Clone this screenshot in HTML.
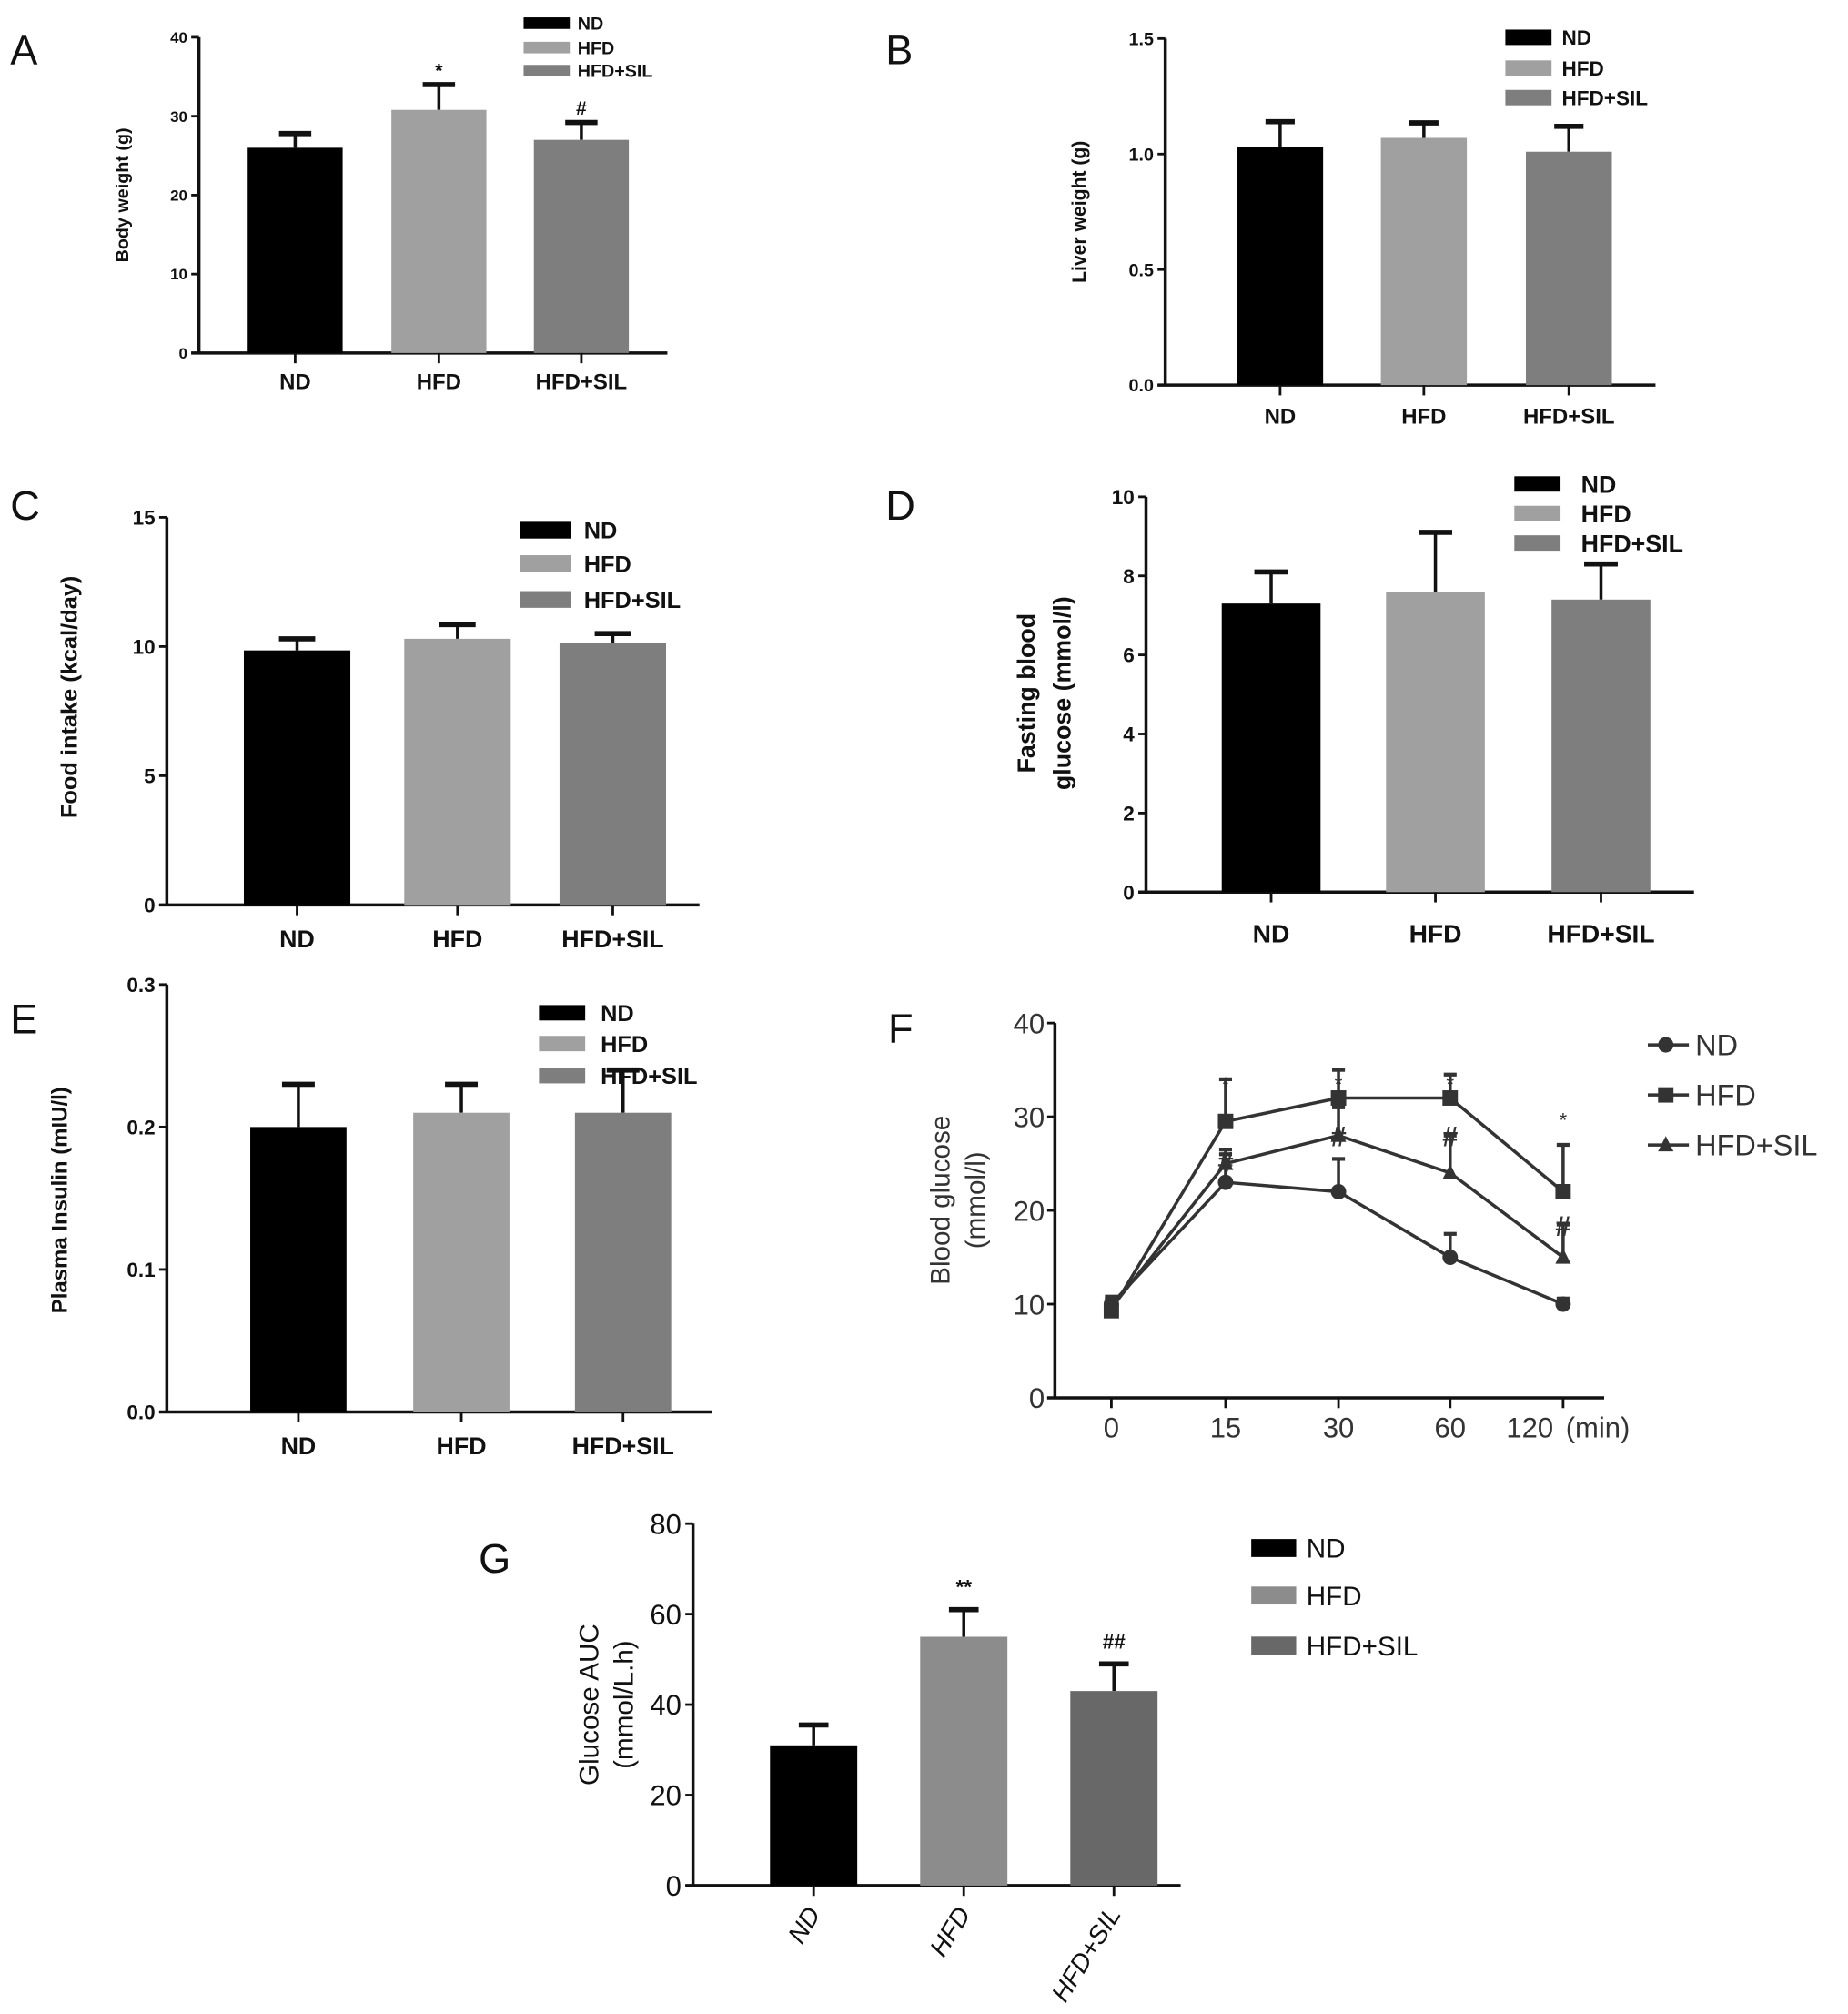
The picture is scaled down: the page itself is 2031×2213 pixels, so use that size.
<!DOCTYPE html>
<html><head><meta charset="utf-8"><style>
html,body{margin:0;padding:0;background:#fff}
svg{display:block}
text{font-family:"Liberation Sans",sans-serif}
</style></head><body>
<svg id="fig" width="2031" height="2213" viewBox="0 0 1440 1569" xmlns="http://www.w3.org/2000/svg"></svg>
<script>
const groups = ["ND","HFD","HFD+SIL"];
const aValues = [26, 30.8, 27];
const aErrTop = [27.8, 34, 29.2];
const aTicks = [0,10,20,30,40];
const bValues = [1.03, 1.07, 1.01];
const bErrTop = [1.14, 1.135, 1.12];
const bTicks = [0.0,0.5,1.0,1.5];
const cValues = [9.85, 10.3, 10.15];
const cErrTop = [10.3, 10.85, 10.5];
const cTicks = [0,5,10,15];
const dValues = [7.3, 7.6, 7.4];
const dErrTop = [8.1, 9.1, 8.3];
const dTicks = [0,2,4,6,8,10];
const eValues = [0.2, 0.21, 0.21];
const eErrTop = [0.23, 0.23, 0.24];
const eTicks = [0.0,0.1,0.2,0.3];
const gValues = [31, 55, 43];
const gErrTop = [35.5, 61, 49];
const gTicks = [0,20,40,60,80];
const fTimes = ["0","15","30","60","120"];
const fND = [10, 23, 22, 15, 10];
const fNDErr = [10.5, 26, 25.5, 17.5, 10.6];
const fHFD = [9.3, 29.5, 32, 32, 22];
const fHFDErr = [10.8, 34, 35, 34.5, 27];
const fSIL = [9.6, 25, 28, 24, 15];
const fSILErr = [10.5, 26.5, 31, 28, 18.5];
const fTicks = [0,10,20,30,40];

const svg = document.getElementById('fig');
const NS = 'http://www.w3.org/2000/svg';
function mk(tag, attrs, parent, txt){
  const e = document.createElementNS(NS, tag);
  for (const k in attrs) e.setAttribute(k, attrs[k]);
  if (txt !== undefined) e.textContent = txt;
  (parent||svg).appendChild(e);
  return e;
}
const colors = ["#000000","#a0a0a0","#7e7e7e"];
const colorsG = ["#000000","#8c8c8c","#686868"];

function barChart(o){
  const g = mk('g', {});
  
  
  const y = v => o.y0 - (v - o.min)/(o.max - o.min)*(o.y0 - o.y1);
  const ya = mk('line',{x1:o.ax,y1:o.y1,x2:o.ax,y2:o.y0,stroke:'#111','stroke-width':2.5},g);
   
  const xa = mk('line',{x1:o.ax-6,y1:o.y0,x2:o.axEnd,y2:o.y0,stroke:'#111','stroke-width':2.5},g);
   
  o.ticks.forEach(t=>{
    mk('line',{x1:o.ax-6,y1:y(t),x2:o.ax,y2:y(t),stroke:'#111','stroke-width':2},g);
    const tl = mk('text',{x:o.ax-9,y:y(t)+o.tfs*0.36,'text-anchor':'end','font-size':o.tfs,'font-weight':o.bold?'bold':'normal',fill:'#111'},g,o.fmt?o.fmt(t):String(t));
     
  });
  const cols = o.colors || colors;
  o.values.forEach((v,i)=>{
    const cx = o.bx[i] + o.bw/2;
    const et = y(o.err[i]);
    mk('line',{x1:cx,y1:y(v),x2:cx,y2:et,stroke:'#111','stroke-width':2.5},g);
    mk('line',{x1:cx-o.bw*0.17,y1:et,x2:cx+o.bw*0.17,y2:et,stroke:'#111','stroke-width':4},g);
    const r = mk('rect',{x:o.bx[i],y:y(v),width:o.bw,height:o.y0-y(v),fill:cols[i]},g);
    
    
    mk('line',{x1:cx,y1:o.y0,x2:cx,y2:o.y0+8,stroke:'#111','stroke-width':2},g);
    let lab;
    if (o.rot){
      lab = mk('text',{x:cx+6,y:o.y0+22,'text-anchor':'end','font-size':o.lfs,'font-style':'italic',fill:'#111',transform:`rotate(-58 ${cx+6} ${o.y0+22})`},g,groups[i]);
    } else {
      lab = mk('text',{x:cx,y:o.labY,'text-anchor':'middle','font-size':o.lfs,'font-weight':'bold',fill:'#111'},g,groups[i]);
    }
     
    if (o.marks && o.marks[i]){
      const m = mk('text',{x:cx,y:et-o.markOff,'text-anchor':'middle','font-size':o.mfs,'font-weight':'bold',fill:'#111'},g,o.marks[i]);
       
    }
  });
  o.title.forEach((t,k)=>{
    const tx = o.titleX + k*o.titleGap;
    const tt = mk('text',{x:tx,y:o.titleY,'text-anchor':'middle','font-size':o.titfs,'font-weight':o.titBold?'bold':'normal',fill:'#111',transform:`rotate(-90 ${tx} ${o.titleY})`},g,t);
     
  });
  groups.forEach((gname,i)=>{
    const ly = o.legY[i];
    mk('rect',{x:o.legX,y:ly-o.legH/2,width:o.legW,height:o.legH,fill:cols[i]},g);
    const lt = mk('text',{x:o.legX+o.legW+o.legGap,y:ly+o.legfs*0.36,'font-size':o.legfs,'font-weight':o.legBold===false?'normal':'bold',fill:'#111'},g,gname);
     
  });
  const pl = mk('text',{x:o.letter[1],y:o.letter[2],'font-size':32,fill:'#111'},g,o.letter[0]);
   
}

barChart({name:'panel-a-body-weight',ax:155,axEnd:520,y0:275,y1:29,min:0,max:40,ticks:aTicks,tfs:12,bold:true,
  values:aValues,err:aErrTop,bx:[193,305,416],bw:74,labY:303,lfs:17,marks:['','*','#'],markOff:6,mfs:15,
  title:['Body weight (g)'],titleX:100,titleGap:0,titleY:152,titfs:14,titBold:true,
  legX:408,legY:[18,37,55],legW:36,legH:9,legGap:6,legfs:14,letter:['A',8,50]});
barChart({name:'panel-b-liver-weight',ax:908,axEnd:1290,y0:300,y1:30,min:0,max:1.5,ticks:bTicks,tfs:14,bold:true,fmt:t=>t.toFixed(1),
  values:bValues,err:bErrTop,bx:[964,1076,1189],bw:67,labY:330,lfs:17,
  title:['Liver weight (g)'],titleX:846,titleGap:0,titleY:165,titfs:15,titBold:true,
  legX:1173,legY:[29,53,76],legW:36,legH:12,legGap:8,legfs:16,letter:['B',690,50]});
barChart({name:'panel-c-food-intake',ax:130,axEnd:545,y0:705,y1:403,min:0,max:15,ticks:cTicks,tfs:16,bold:true,
  values:cValues,err:cErrTop,bx:[190,315,436],bw:83,labY:738,lfs:19,
  title:['Food intake (kcal/day)'],titleX:60,titleGap:0,titleY:543,titfs:18,titBold:true,
  legX:405,legY:[413,439,467],legW:40,legH:13,legGap:10,legfs:18,letter:['C',8,405]});
barChart({name:'panel-d-fasting-glucose',ax:893,axEnd:1320,y0:695,y1:387,min:0,max:10,ticks:dTicks,tfs:16,bold:true,
  values:dValues,err:dErrTop,bx:[952,1080,1209],bw:77,labY:734,lfs:20,
  title:['Fasting blood','glucose (mmol/l)'],titleX:806,titleGap:28,titleY:540,titfs:19,titBold:true,
  legX:1180,legY:[377,400,423],legW:36,legH:12,legGap:16,legfs:19,letter:['D',690,405]});
barChart({name:'panel-e-plasma-insulin',ax:130,axEnd:555,y0:1100,y1:767,min:0,max:0.3,ticks:eTicks,tfs:16,bold:true,fmt:t=>t.toFixed(1),
  values:eValues,err:eErrTop,bx:[195,322,448],bw:75,labY:1133,lfs:19,
  title:['Plasma Insulin (mIU/l)'],titleX:52,titleGap:0,titleY:935,titfs:17,titBold:true,
  legX:420,legY:[789,813,838],legW:36,legH:12,legGap:12,legfs:18,letter:['E',8,805]});
barChart({name:'panel-g-glucose-auc',ax:540,axEnd:920,y0:1469,y1:1187,min:0,max:80,ticks:gTicks,tfs:22,bold:false,colors:colorsG,
  values:gValues,err:gErrTop,bx:[600,717,834],bw:68,rot:true,lfs:20,marks:['','**','##'],markOff:12,mfs:16,
  title:['Glucose AUC','(mmol/L.h)'],titleX:466,titleGap:27,titleY:1328,titfs:21,titBold:false,
  legX:975,legY:[1206,1243,1282],legW:35,legH:14,legGap:8,legfs:21,legBold:false,letter:['G',373,1225]});

(function(){
  const g = mk('g',{});
  
  
  const ax=822, y0=1089, y1=797, axEnd=1250;
  const xs=[866,955,1043,1130,1218];
  const labOff=[0,0,0,0,-26];
  const y = v => y0 - v/40*(y0-y1);
  const col='#333';
  mk('line',{x1:ax,y1:y1,x2:ax,y2:y0,stroke:'#111','stroke-width':2.5},g);
  mk('line',{x1:ax-6,y1:y0,x2:axEnd,y2:y0,stroke:'#111','stroke-width':2.5},g);
  fTicks.forEach(t=>{
    mk('line',{x1:ax-6,y1:y(t),x2:ax,y2:y(t),stroke:'#111','stroke-width':2},g);
    const tl=mk('text',{x:ax-8,y:y(t)+8,'text-anchor':'end','font-size':22,fill:'#333'},g,String(t));
     
  });
  fTimes.forEach((t,i)=>{
    mk('line',{x1:xs[i],y1:y0,x2:xs[i],y2:y0+8,stroke:'#111','stroke-width':2},g);
    const tl=mk('text',{x:xs[i]+labOff[i],y:y0+31,'text-anchor':'middle','font-size':22,fill:'#333'},g,t);
     
  });
  const mu=mk('text',{x:1220,y:y0+31,'font-size':22,fill:'#333'},g,'(min)');
   
  ['Blood glucose','(mmol/l)'].forEach((t,k)=>{
    const tx=740+k*27, ty=935;
    const tt=mk('text',{x:tx,y:ty,'text-anchor':'middle','font-size':21,fill:'#333',transform:`rotate(-90 ${tx} ${ty})`},g,t);
     
  });
  function marker(type,cx,cy,s){
    if(type==='circle') return mk('circle',{cx:cx,cy:cy,r:s,fill:col},g);
    if(type==='square') return mk('rect',{x:cx-s,y:cy-s,width:2*s,height:2*s,fill:col},g);
    return mk('polygon',{points:`${cx},${cy-s-1} ${cx-s},${cy+s-1} ${cx+s},${cy+s-1}`,fill:col},g);
  }
  const series=[[fND,fNDErr,'circle','nd'],[fHFD,fHFDErr,'square','hfd'],[fSIL,fSILErr,'triangle','hfd-sil']];
  series.forEach(([vals,errs,type,nm])=>{
    vals.forEach((v,i)=>{
      mk('line',{x1:xs[i],y1:y(v),x2:xs[i],y2:y(errs[i]),stroke:col,'stroke-width':2.5},g);
      mk('line',{x1:xs[i]-5,y1:y(errs[i]),x2:xs[i]+5,y2:y(errs[i]),stroke:col,'stroke-width':3},g);
    });
    const p=mk('polyline',{points:vals.map((v,i)=>xs[i]+','+y(v)).join(' '),fill:'none',stroke:col,'stroke-width':2.5},g);
     
    vals.forEach((v,i)=>{
      const m=marker(type,xs[i],y(v),6);
       
    });
  });
  [[955,842,'*'],[1043,842,'*'],[1130,842,'*'],[1218,870,'*']].forEach(([x,yy,s])=>{
    const m=mk('text',{x:x,y:yy+8,'text-anchor':'middle','font-size':16,fill:'#333'},g,s);
     
  });
  [[955,905],[1043,885],[1130,885],[1218,955]].forEach(([x,yy])=>{
    const m=mk('text',{x:x,y:yy+8,'text-anchor':'middle','font-size':22,'font-weight':'bold',fill:'#333'},g,'#');
     
  });
  [['ND','circle',814],['HFD','square',853],['HFD+SIL','triangle',892]].forEach(([t,type,ly])=>{
    mk('line',{x1:1284,y1:ly,x2:1316,y2:ly,stroke:col,'stroke-width':2.5},g);
    marker(type,1298,ly,6);
    const lt=mk('text',{x:1321,y:ly+8,'font-size':23,fill:'#333'},g,t);
     
  });
  const pl=mk('text',{x:692,y:812,'font-size':32,fill:'#111'},g,'F');
   
})();
</script>
</body></html>
